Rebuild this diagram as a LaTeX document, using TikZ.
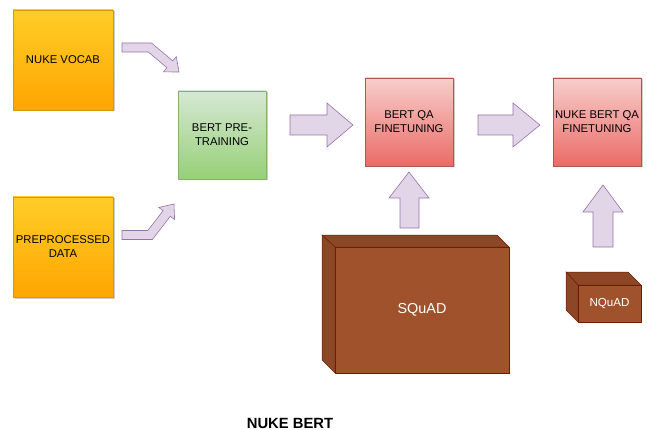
\documentclass[tikz,border=0pt]{standalone}
\usepackage{fontspec}
\setmainfont{Liberation Sans}
\usetikzlibrary{shadows}
\definecolor{orT}{HTML}{FFCD28}
\definecolor{orB}{HTML}{FFA500}
\definecolor{orS}{HTML}{D79B00}
\definecolor{grT}{HTML}{D5E8D4}
\definecolor{grB}{HTML}{97D077}
\definecolor{grS}{HTML}{82B366}
\definecolor{rdT}{HTML}{F8CECC}
\definecolor{rdB}{HTML}{EA6B66}
\definecolor{rdS}{HTML}{B85450}
\definecolor{arF}{HTML}{E1D5E7}
\definecolor{arS}{HTML}{9673A6}
\definecolor{cbF}{HTML}{A0522D}
\definecolor{cbD}{HTML}{8C4727}
\definecolor{cbS}{HTML}{6D1F00}
\begin{document}
\begin{tikzpicture}[x=1pt,y=-1pt,
  boxbase/.style={rectangle, line width=0.6pt, align=center,
    font=\fontsize{11.3}{14}\selectfont, inner sep=0pt,
    drop shadow={shadow xshift=1.5pt, shadow yshift=-1.5pt, opacity=0.2, fill=black}},
  orbox/.style={boxbase, draw=orS, top color=orT, bottom color=orB, minimum width=100pt, minimum height=100pt},
  grbox/.style={boxbase, draw=grS, top color=grT, bottom color=grB, minimum width=88pt, minimum height=88pt},
  rdbox/.style={boxbase, draw=rdS, top color=rdT, bottom color=rdB, minimum width=88pt, minimum height=88pt},
  blockarrow/.style={fill=arF, draw=arS, line width=0.6pt, line join=miter},
  cubefront/.style={fill=cbF, draw=cbS, line width=0.5pt},
  cubeside/.style={fill=cbD, draw=cbS, line width=0.5pt},
  cubetext/.style={text=white, inner sep=0pt}
]
\useasboundingbox (0,0) rectangle (647,430);

% boxes
\node[orbox] (vocab) at (63,60) {NUKE VOCAB};
\node[orbox] (prep) at (63,247) {PREPROCESSED\\DATA};
\node[grbox] (pre) at (222,135) {BERT PRE-\\TRAINING};
\node[rdbox] (qa) at (409,122) {BERT QA\\FINETUNING};
\node[rdbox] (nqa) at (597,122) {NUKE BERT QA\\FINETUNING};

% bent arrows
\draw[blockarrow] (122,43) -- (151.5,43) -- (172.7,60.9) -- (176.3,56.7) -- (179,72)
  -- (163.4,71.9) -- (166.9,67.7) -- (148.3,52) -- (122,52) -- cycle;
\draw[blockarrow] (122,230.5) -- (147.8,230.5) -- (163.1,210.7) -- (158.8,207.4) -- (174,204)
  -- (174.6,219.6) -- (170.3,216.3) -- (152.4,239.5) -- (122,239.5) -- cycle;

% straight arrows
\draw[blockarrow] (290,115) -- (327,115) -- (327,103) -- (353,125) -- (327,147) -- (327,135) -- (290,135) -- cycle;
\draw[blockarrow] (478,115) -- (513,115) -- (513,103) -- (540,125) -- (513,147) -- (513,135) -- (478,135) -- cycle;

% up arrows
\draw[blockarrow] (400,228) -- (400,198) -- (389,198) -- (409,172) -- (429,198) -- (419,198) -- (419,228) -- cycle;
\draw[blockarrow] (593,247) -- (593,212) -- (583,212) -- (603,185) -- (623,212) -- (613,212) -- (613,247) -- cycle;

% SQuAD cube
\draw[cubeside] (322,235) -- (497,235) -- (509,247) -- (335,247) -- cycle;
\draw[cubeside] (322,235) -- (335,247) -- (335,373) -- (322,360) -- cycle;
\draw[cubefront] (335,247) rectangle (509,373);
\node[cubetext, font=\fontsize{14.4}{16}\selectfont] (squad) at (422,310) {SQuAD};

% NQuAD cube
\draw[cubeside] (566,272) -- (628,272) -- (641,285) -- (578,285) -- cycle;
\draw[cubeside] (566,272) -- (578,285) -- (578,322) -- (566,310) -- cycle;
\draw[cubefront] (578,285) rectangle (641,322);
\node[cubetext, font=\fontsize{11.6}{13}\selectfont] (nquad) at (609.5,303.5) {NQuAD};

% title
\node[font=\bfseries\fontsize{14.8}{17}\selectfont, inner sep=0pt] (title) at (290,423) {NUKE BERT};
\end{tikzpicture}
\end{document}
